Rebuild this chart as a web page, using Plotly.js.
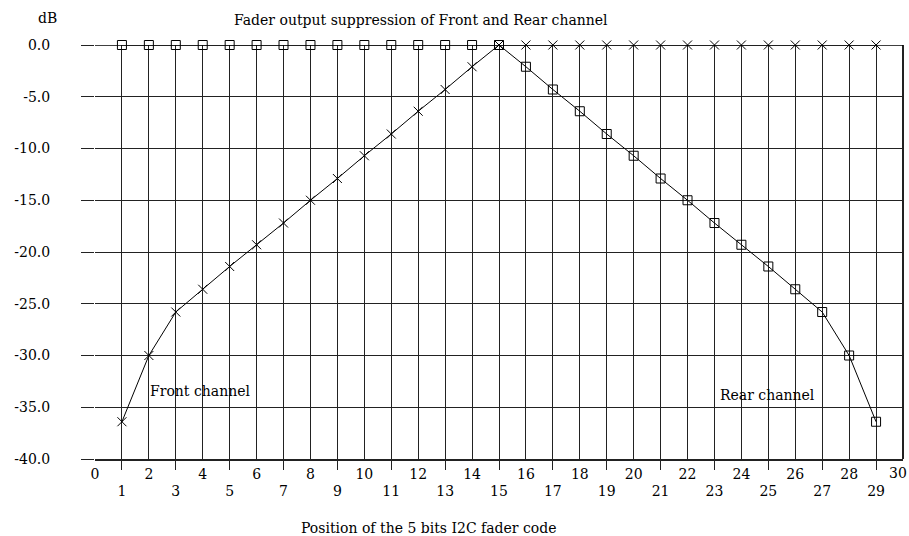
<!DOCTYPE html>
<html>
<head>
<meta charset="utf-8">
<script src="https://cdn.plot.ly/plotly-3.0.1.min.js"></script>
<style>html,body{margin:0;padding:0;background:#fff;}#chart{width:909px;height:536px;}</style>
</head>
<body>
<div id="chart"></div>
<script>
const positions = [1,2,3,4,5,6,7,8,9,10,11,12,13,14,15,16,17,18,19,20,21,22,23,24,25,26,27,28,29];
const frontDb = [-36.4,-30.0,-25.8,-23.6,-21.4,-19.3,-17.2,-15.0,-12.9,-10.7,-8.6,-6.4,-4.3,-2.1,0,0,0,0,0,0,0,0,0,0,0,0,0,0,0];
const rearDb  = [0,0,0,0,0,0,0,0,0,0,0,0,0,0,0,-2.1,-4.3,-6.4,-8.6,-10.7,-12.9,-15.0,-17.2,-19.3,-21.4,-23.6,-25.8,-30.0,-36.4];
const evenTicks = [0,2,4,6,8,10,12,14,16,18,20,22,24,26,28];
const lastTick = 30;
const oddTicks = [1,3,5,7,9,11,13,15,17,19,21,23,25,27,29];
const yTicks = [0,-5,-10,-15,-20,-25,-30,-35,-40];
const yTickText = ['0.0','-5.0','-10.0','-15.0','-20.0','-25.0','-30.0','-35.0','-40.0'];

const FONT = {family: '"DejaVu Serif", "Liberation Serif", serif', size: 14, color: '#000'};

const traces = [
  {x: positions, y: frontDb, type: 'scatter', mode: 'lines+markers', name: 'Front channel',
   line: {color: '#000', width: 1}, marker: {symbol: 'x-thin-open', size: 9, color: '#000', line: {color: '#000', width: 1}},
   cliponaxis: false, xaxis: 'x', yaxis: 'y'},
  {x: positions, y: rearDb, type: 'scatter', mode: 'lines+markers', name: 'Rear channel',
   line: {color: '#000', width: 1}, marker: {symbol: 'square-open', size: 9, color: '#000', line: {color: '#000', width: 1}},
   cliponaxis: false, xaxis: 'x', yaxis: 'y'}
];

const layout = {
  width: 909, height: 536,
  margin: {l: 95, r: 6, t: 45, b: 77},
  paper_bgcolor: '#fff', plot_bgcolor: '#fff',
  showlegend: false,
  font: FONT,
  xaxis: {
    range: [0, 30], tickmode: 'array', tickvals: evenTicks, ticktext: evenTicks.map(String),
    ticks: '', ticklabelstandoff: 1,
    showgrid: true, gridcolor: '#222', gridwidth: 1, zeroline: false,
    showline: true, linecolor: '#222', linewidth: 2, mirror: false,
    tickfont: FONT, fixedrange: true
  },
  xaxis2: {
    overlaying: 'x', anchor: 'y', side: 'bottom', range: [0, 30],
    tickmode: 'array', tickvals: oddTicks, ticktext: oddTicks.map(String),
    ticks: 'outside', ticklen: 10, tickwidth: 1, tickcolor: '#222', ticklabelstandoff: 9,
    showgrid: true, gridcolor: '#222', gridwidth: 1, zeroline: false, showline: false, tickfont: FONT, fixedrange: true
  },
  yaxis: {
    range: [-40, 0], tickmode: 'array', tickvals: yTicks, ticktext: yTickText,
    ticks: 'outside', ticklen: 13, tickwidth: 1, tickcolor: '#222', ticklabelstandoff: 28,
    showgrid: true, gridcolor: '#222', gridwidth: 1, zeroline: false,
    showline: false, tickfont: FONT, fixedrange: true
  },
  shapes: [
    {type: 'line', xref: 'paper', yref: 'paper', x0: 1, x1: 1, y0: 0, y1: 1, line: {color: '#222', width: 2}},
    {type: 'line', xref: 'paper', yref: 'y', x0: 0, x1: 1, y0: 0, y1: 0, line: {color: '#000', width: 1.5}}
  ],
  annotations: [
    {text: 'Fader output suppression of Front and Rear channel', xref: 'paper', yref: 'paper',
     x: (421 - 95) / 808, y: 1 + 25 / 414, xanchor: 'center', yanchor: 'middle', showarrow: false, font: FONT},
    {text: 'dB', xref: 'paper', yref: 'paper', x: (47 - 95) / 808, y: 1 + 27 / 414,
     xanchor: 'center', yanchor: 'middle', showarrow: false, font: FONT},
    {text: 'Position of the 5 bits I2C fader code', xref: 'paper', yref: 'paper',
     x: (428 - 95) / 808, y: -(528 - 459) / 414, xanchor: 'center', yanchor: 'middle', showarrow: false, font: FONT},
    {text: String(lastTick), xref: 'x', yref: 'paper', x: lastTick, y: -(473 - 459) / 414,
     xanchor: 'right', yanchor: 'middle', xshift: 6, showarrow: false, font: FONT},
    {text: 'Front channel', xref: 'x', yref: 'y', x: 1.97, y: -33.4, xanchor: 'left', yanchor: 'middle', showarrow: false, font: FONT},
    {text: 'Rear channel', xref: 'x', yref: 'y', x: 23.13, y: -33.8, xanchor: 'left', yanchor: 'middle', showarrow: false, font: FONT}
  ]
};

Plotly.newPlot('chart', traces.concat([{x: [0], y: [0], xaxis: 'x2', yaxis: 'y', mode: 'markers', marker: {opacity: 0}, hoverinfo: 'skip', showlegend: false}]), layout, {displayModeBar: false, staticPlot: true});
</script>
</body>
</html>
